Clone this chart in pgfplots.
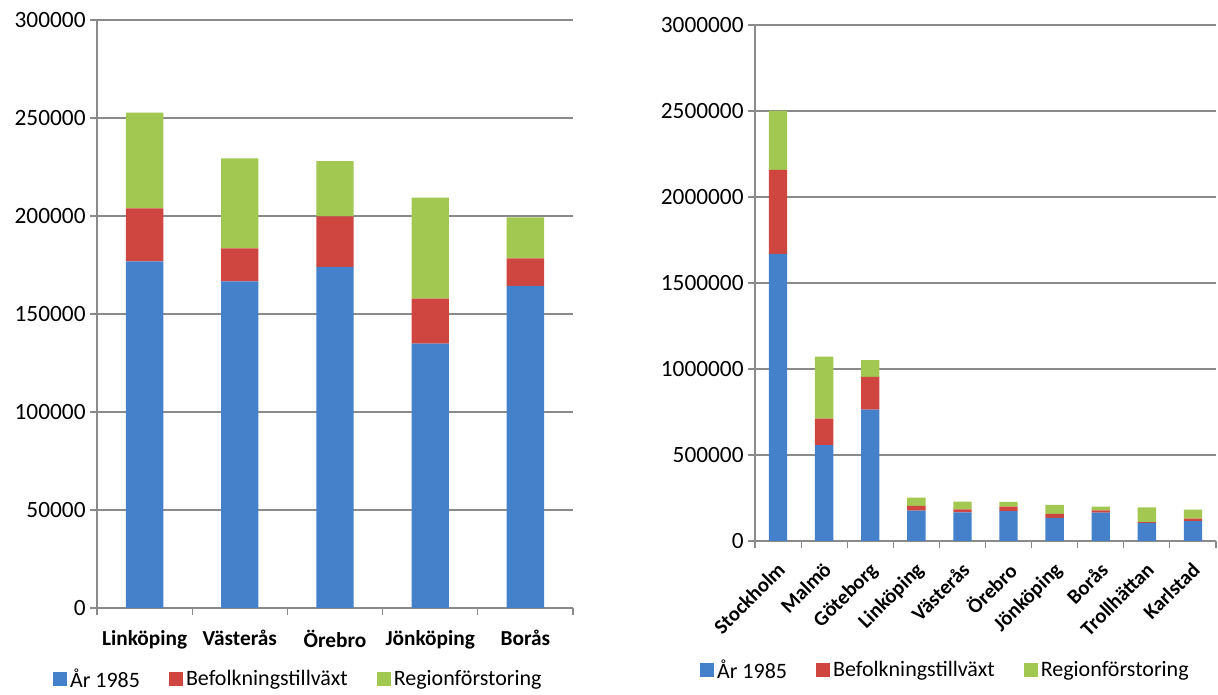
\documentclass[border=0pt]{standalone}
\usepackage{pgfplots}
\pgfplotsset{compat=1.18}
\usepackage{pgfplotstable}
\usepackage{fontspec}
\setmainfont{Carlito}
\definecolor{cA}{HTML}{4581CB}
\definecolor{cB}{HTML}{CF4540}
\definecolor{cC}{HTML}{A3C852}
\definecolor{ax}{HTML}{8A8A8A}

\pgfplotstableread{
x a b c
0 176800 27100 48800
1 166600 16900 45900
2 174000 25800 28200
3 134900 22900 51600
4 164400 14000 20900
}\lefttab

\pgfplotstableread{
x a b c
0 1668600 488400 343000
1 558000 153600 360400
2 764000 189500 98500
3 176800 27100 48800
4 166600 16900 45900
5 174000 25800 28200
6 134900 22900 51600
7 164400 14000 20900
8 105000 5000 85000
9 115000 15000 53000
}\righttab

\pgfplotsset{mystyle/.style={
  scale only axis, ybar stacked, ymin=0,
  axis x line=bottom, axis y line=left,
  axis line style={ax,-,line width=0.8pt},
  ymajorgrids, grid style={ax,line width=0.8pt},
  tick align=outside,
  major tick length=5pt, minor tick length=5pt,
  tick style={ax,line width=0.8pt},
  major x tick style={draw=none},
  xtick=data,
  scaled y ticks=false,
  yticklabel={\pgfmathprintnumber[fixed,1000 sep={},assume math mode=true]{\tick}},
  yticklabel style={font=\fontsize{17.5}{20}\selectfont, text=black},
  xticklabel style={font=\bfseries\fontsize{16}{19}\selectfont, text=black},
  legend style={draw=none, legend columns=3, font=\fontsize{16.5}{20}\selectfont,
    /tikz/every even column/.append style={column sep=20pt}, inner sep=0pt},
  legend image code/.code={\fill[##1,draw=none] (0pt,-5pt) rectangle (10.5pt,5.5pt);},
}}

\begin{document}
\begin{tikzpicture}
\useasboundingbox (0,0) rectangle (913.5pt,521.25pt);
\begin{axis}[mystyle,
  at={(72.75pt,65.25pt)}, anchor=south west,
  width=357pt, height=441pt,
  ymax=300000, ytick={0,50000,...,300000},
  xmin=-0.5, xmax=4.5,
  bar width=28pt,
  minor xtick={-0.5,0.5,...,4.5},
  xticklabels={Linköping,Västerås,Örebro,Jönköping,Borås},
  xticklabel style={yshift=-8pt},
  legend style={at={(0.424,-0.121)}, anchor=center},
]
\addplot[fill=cA, draw=none] table[x=x,y=a]{\lefttab};
\addplot[fill=cB, draw=none] table[x=x,y=b]{\lefttab};
\addplot[fill=cC, draw=none] table[x=x,y=c]{\lefttab};
\legend{År 1985, Befolkningstillväxt, Regionförstoring}
\end{axis}
\begin{axis}[mystyle,
  at={(566.25pt,115.5pt)}, anchor=south west,
  width=345.75pt, height=387pt,
  ymax=3000000, ytick={0,500000,...,3000000},
  xmin=-0.5, xmax=9.5,
  bar width=13.75pt,
  minor xtick={-0.5,0.5,...,9.5},
  xticklabels={Stockholm,Malmö,Göteborg,Linköping,Västerås,Örebro,Jönköping,Borås,Trollhättan,Karlstad},
  xticklabel style={xshift=-1.5pt, yshift=-5pt, rotate=45, anchor=north east, font=\bfseries\fontsize{15.5}{18}\selectfont},
  legend style={at={(0.414,-0.25)}, anchor=center},
]
\addplot[fill=cA, draw=none] table[x=x,y=a]{\righttab};
\addplot[fill=cB, draw=none] table[x=x,y=b]{\righttab};
\addplot[fill=cC, draw=none] table[x=x,y=c]{\righttab};
\legend{År 1985, Befolkningstillväxt, Regionförstoring}
\end{axis}
\end{tikzpicture}
\end{document}
